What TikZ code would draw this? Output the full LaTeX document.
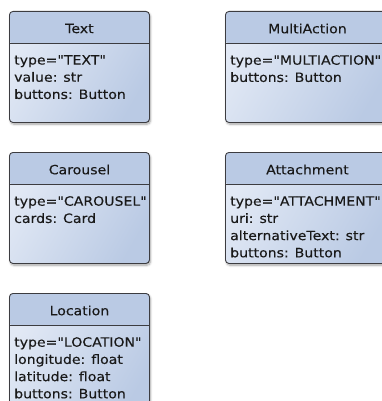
\documentclass[tikz,border=0pt]{standalone}
\usepackage{fontspec}
\setmainfont{DejaVu Sans}[FakeStretch=1.1, Ligatures=TeXOff, FakeBold=0.2]
\usetikzlibrary{shadows.blur}
\definecolor{headcol}{RGB}{186,202,228}
\definecolor{bodylight}{RGB}{226,233,245}
\definecolor{bodydark}{RGB}{186,202,228}
\definecolor{edgecol}{RGB}{60,60,64}
\tikzset{
  classbox/.style={draw=edgecol, line width=0.9pt, rounded corners=3.5pt,
    anchor=north west, inner sep=0pt,
    left color=bodylight, right color=bodydark, shading angle=60,
    blur shadow={shadow xshift=1pt, shadow yshift=-1.8pt, shadow blur steps=6, shadow opacity=35},
    path picture={\fill[headcol] (path picture bounding box.north west) rectangle ([yshift=-32pt]path picture bounding box.north east);}},
  sepline/.style={draw=edgecol, line width=0.9pt},
  titletext/.style={font=\fontsize{12.8}{17}\selectfont, inner sep=0pt, text=black!90},
  bodytext/.style={font=\fontsize{12.8}{17.2}\selectfont, align=left, inner sep=0pt, anchor=north west, text=black!90}
}
\begin{document}
\begin{tikzpicture}[x=1pt,y=-1pt]
\useasboundingbox (0,0) rectangle (382,401);
% Text
\node[classbox, minimum width=140pt, minimum height=111pt] (text) at (9,11) {};
\draw[sepline] ([yshift=-32pt]text.north west) -- ([yshift=-32pt]text.north east);
\node[titletext] (textT) at ([yshift=-17.5pt]text.north) {Text};
\node[bodytext] (textB) at ([xshift=5pt,yshift=-44pt]text.north west) {type="TEXT"\\value: str\\buttons: Button};
% MultiAction
\node[classbox, minimum width=164pt, minimum height=111pt] (multi) at (225,11) {};
\draw[sepline] ([yshift=-32pt]multi.north west) -- ([yshift=-32pt]multi.north east);
\node[titletext] (multiT) at ([yshift=-17.5pt]multi.north) {MultiAction};
\node[bodytext] (multiB) at ([xshift=5pt,yshift=-44pt]multi.north west) {type="MULTIACTION"\\buttons: Button};
% Carousel
\node[classbox, minimum width=140pt, minimum height=111pt] (car) at (9,152) {};
\draw[sepline] ([yshift=-32pt]car.north west) -- ([yshift=-32pt]car.north east);
\node[titletext] (carT) at ([yshift=-17.5pt]car.north) {Carousel};
\node[bodytext] (carB) at ([xshift=5pt,yshift=-44pt]car.north west) {type="CAROUSEL"\\cards: Card};
% Attachment
\node[classbox, minimum width=164pt, minimum height=111pt] (att) at (225,152) {};
\draw[sepline] ([yshift=-32pt]att.north west) -- ([yshift=-32pt]att.north east);
\node[titletext] (attT) at ([yshift=-17.5pt]att.north) {Attachment};
\node[bodytext] (attB) at ([xshift=5pt,yshift=-44pt]att.north west) {type="ATTACHMENT"\\uri: str\\alternativeText: str\\buttons: Button};
% Location
\node[classbox, minimum width=140pt, minimum height=124pt] (loc) at (9,293) {};
\draw[sepline] ([yshift=-32pt]loc.north west) -- ([yshift=-32pt]loc.north east);
\node[titletext] (locT) at ([yshift=-17.5pt]loc.north) {Location};
\node[bodytext] (locB) at ([xshift=5pt,yshift=-44pt]loc.north west) {type="LOCATION"\\longitude: float\\latitude: float\\buttons: Button};
\end{tikzpicture}
\end{document}
